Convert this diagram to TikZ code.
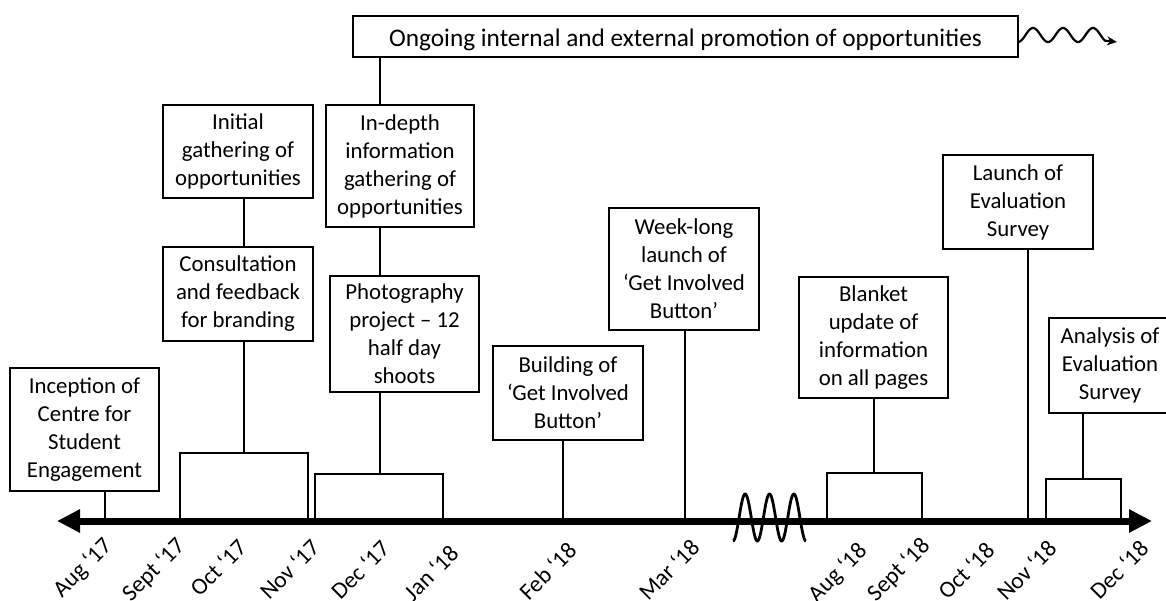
\documentclass[tikz,border=0pt]{standalone}
\usepackage{fontspec}
\setmainfont{Carlito}
\usetikzlibrary{arrows.meta}
\begin{document}
\begin{tikzpicture}[x=1pt,y=-1pt,
  every node/.style={font=\fontsize{22.8pt}{28pt}\selectfont},
  box/.style={draw, line width=2pt, align=center, inner sep=0pt, fill=white},
  conn/.style={line width=2pt},
  lab/.style={rotate=45, anchor=north east, inner sep=0pt, font=\fontsize{23.5pt}{28pt}\selectfont},
  axisline/.style={line width=7pt, {Triangle[length=23pt,width=22pt]}-{Triangle[length=23pt,width=22pt]}}
]
\path[use as bounding box] (0,0) rectangle (1166,600);
\clip (0,0) rectangle (1166,600);

% axis
\coordinate (axL) at (57,521);
\coordinate (axR) at (1152,521);

% boxes
\node[box, minimum width=665pt, minimum height=41pt, text height=21pt, text depth=1pt,
      font=\fontsize{25.3pt}{30pt}\selectfont] (ong) at (685.5,36.5) {Ongoing internal and external promotion of opportunities};
\node[box, minimum width=149pt, minimum height=123pt] (inc) at (84.5,429.5) {Inception of\\Centre for\\Student\\Engagement};
\node[box, minimum width=150pt, minimum height=93pt] (ini) at (238,151.5) {Initial\\gathering of\\opportunities};
\node[box, minimum width=150pt, minimum height=94pt] (con) at (238,294) {Consultation\\and feedback\\for branding};
\node[box, minimum width=148pt, minimum height=122pt] (ind) at (400,166) {In-depth\\information\\gathering of\\opportunities};
\node[box, minimum width=149pt, minimum height=116pt] (pho) at (404.5,334) {Photography\\project – 12\\half day\\shoots};
\node[box, minimum width=150pt, minimum height=94pt] (bld) at (568,393) {Building of\\‘Get Involved\\Button’};
\node[box, minimum width=150pt, minimum height=122pt] (wk) at (684,269) {Week-long\\launch of\\‘Get Involved\\Button’};
\node[box, minimum width=149pt, minimum height=121pt] (blk) at (873.5,337.5) {Blanket\\update of\\information\\on all pages};
\node[box, minimum width=150pt, minimum height=94pt] (lau) at (1018,202) {Launch of\\Evaluation\\Survey};
\node[box, minimum width=122pt, minimum height=95pt] (ana) at (1110,365.5) {Analysis of\\Evaluation\\Survey};

% x-positions of connectors
\coordinate (xA) at (380,0);
\coordinate (xB) at (244,0);
\coordinate (xC) at (105,0);
\coordinate (xD) at (563,0);
\coordinate (xE) at (685,0);
\coordinate (xF) at (874,0);
\coordinate (xG) at (1028,0);
\coordinate (xH) at (1083,0);

% bracket tops
\coordinate (bCon) at (244,453);
\coordinate (bPho) at (380,474);
\coordinate (bBlk) at (874,473);
\coordinate (bAna) at (1083,479);

% connectors
\draw[conn] (ong.south -| xA) -- (ind.north -| xA);
\draw[conn] (ind.south -| xA) -- (pho.north -| xA);
\draw[conn] (pho.south -| xA) -- (bPho);
\draw[conn] (ini.south -| xB) -- (con.north -| xB);
\draw[conn] (con.south -| xB) -- (bCon);
\draw[conn] (inc.south -| xC) -- (axL -| xC);
\draw[conn] (bld.south -| xD) -- (axL -| xD);
\draw[conn] (wk.south -| xE) -- (axL -| xE);
\draw[conn] (blk.south -| xF) -- (bBlk);
\draw[conn] (lau.south -| xG) -- (axL -| xG);
\draw[conn] (ana.south -| xH) -- (bAna);

% brackets
\draw[conn] (180,521) -- (180,453) -- (308,453) -- (308,521);
\draw[conn] (315,521) -- (315,474) -- (443,474) -- (443,521);
\draw[conn] (827,521) -- (827,473) -- (922,473) -- (922,521);
\draw[conn] (1046,521) -- (1046,479) -- (1121,479) -- (1121,521);

% main axis
\draw[axisline] (axL) -- (axR);

% break squiggle
\draw[line width=2.8pt] plot[domain=0:73, samples=140, smooth] ({733+\x},{517.5+23.5*cos(\x*14.797)});

% ongoing wave arrow
\coordinate (wEnd) at (1117,42);
\draw[line width=2.2pt, -{Stealth[length=10pt,width=9pt]}] plot[domain=0:87, samples=90, smooth] ({1018+\x},{35+7*cos(12*\x)}) -- (wEnd);

% date labels
\node[lab] (d1) at (101,535) {Aug ‘17};
\node[lab] (d2) at (174,535) {Sept ‘17};
\node[lab] (d3) at (236,537) {Oct ‘17};
\node[lab] (d4) at (309,537) {Nov ‘17};
\node[lab] (d5) at (379,538) {Dec ‘17};
\node[lab] (d6) at (448,543) {Jan ‘18};
\node[lab] (d7) at (566,540) {Feb ‘18};
\node[lab] (d8) at (689,537) {Mar ‘18};
\node[lab] (d9) at (856,540) {Aug ‘18};
\node[lab] (d10) at (919,535) {Sept ‘18};
\node[lab] (d11) at (984,540) {Oct ‘18};
\node[lab] (d12) at (1046,538) {Nov ‘18};
\node[lab] (d13) at (1138,538) {Dec ‘18};
\end{tikzpicture}
\end{document}
